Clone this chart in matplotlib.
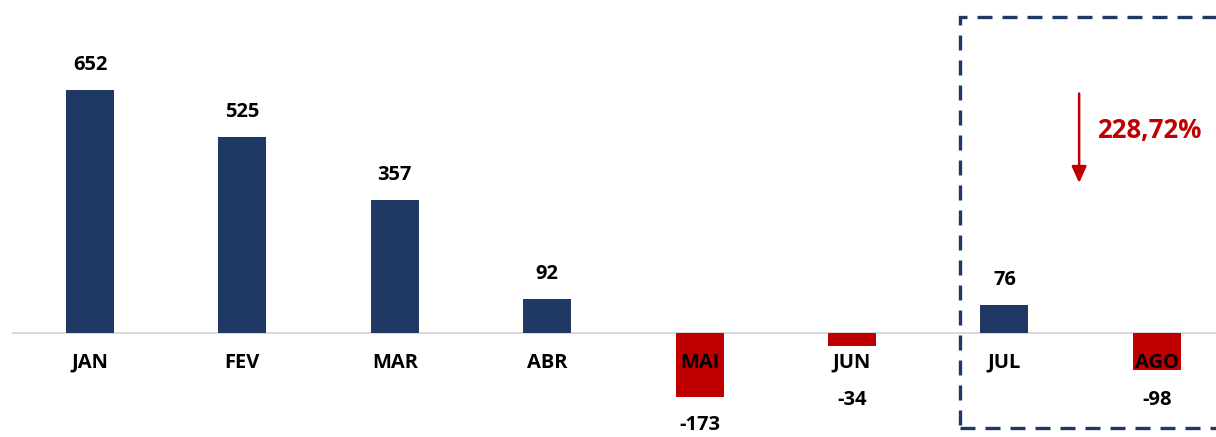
import matplotlib.pyplot as plt
from matplotlib.patches import Rectangle

months = ["JAN", "FEV", "MAR", "ABR", "MAI", "JUN", "JUL", "AGO"]
values = [652, 525, 357, 92, -173, -34, 76, -98]
variation = "228,72%"

navy = "#203864"
red = "#C00000"
plt.rcParams["font.family"] = ["Open Sans", "DejaVu Sans"]

fig = plt.figure(figsize=(12.16, 4.37), dpi=100)
ax = fig.add_axes([0, 0, 1, 1])

x = list(range(len(months)))
colors = [navy if v >= 0 else red for v in values]
ax.bar(x, values, width=0.315, color=colors, zorder=2)

# baseline
ax.plot([-0.505, 7.6], [0, 0], color="#D9D9D9", lw=1.4, zorder=1, clip_on=False)

fs = 14.5
for i, (m, v) in enumerate(zip(months, values)):
    ax.text(i, -80, m, ha="center", va="center", fontsize=fs,
            fontweight="bold", zorder=3)
    if v >= 0:
        ax.text(i, v + 67, str(v), ha="center", va="center", fontsize=fs,
                fontweight="bold")
    else:
        ax.text(i, min(v - 75, -180), str(v), ha="center", va="center",
                fontsize=fs, fontweight="bold")

# highlight box around the last months
box = Rectangle((5.709, -255), 2.5, 1102, fill=False, edgecolor=navy,
                lw=2.4, linestyle=(0, (4.5, 3)), clip_on=False, zorder=4)
ax.add_patch(box)

ax.annotate("", xy=(6.49, 395), xytext=(6.49, 650),
            arrowprops=dict(arrowstyle="-|>,head_width=0.45,head_length=1.0",
                            color=red, lw=1.8))
ax.text(6.605, 543, variation, ha="left", va="center", fontsize=18.5,
        fontweight="bold", color=red)

ax.set_xlim(-0.5906, 7.388)
ax.set_ylim(-279, 893.5)
ax.axis("off")

fig.savefig("out.png", dpi=100)
